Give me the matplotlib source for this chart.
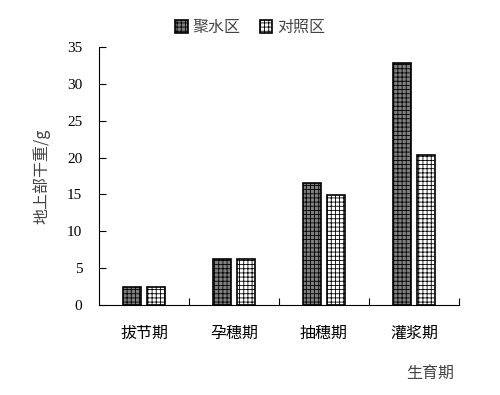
import numpy as np
import matplotlib
matplotlib.use("Agg")
import matplotlib.pyplot as plt

stages = ["拔节期", "孕穗期", "抽穗期", "灌浆期"]
series = ["聚水区", "对照区"]
jushui = [2.5, 6.2, 16.5, 32.8]
duizhao = [2.5, 6.2, 14.9, 20.4]

plt.rcParams["font.family"] = ["Liberation Serif", "Noto Sans CJK SC"]
plt.rcParams["hatch.linewidth"] = 0.6
cjk = ["Noto Sans CJK SC", "Liberation Serif"]

fig = plt.figure(figsize=(5.0, 3.95), dpi=100)
ax = fig.add_axes([0.198, 0.228, 0.72, 0.653])

x = np.arange(1, len(stages) + 1)
w = 0.2
ax.bar(x - 0.133, jushui, w, color="#808080", edgecolor="black",
       linewidth=1.2, hatch="++++", label=series[0])
ax.bar(x + 0.133, duizhao, w, color="white", edgecolor="black",
       linewidth=1.2, hatch="++++", label=series[1])

ax.set_xlim(0.5, 4.5)
ax.set_ylim(0, 35)
ax.set_yticks(np.arange(0, 36, 5))
ax.tick_params(axis="y", direction="in", length=5, labelsize=11, pad=12)

ax.set_xticks([1.5, 2.5, 3.5, 4.5])
ax.set_xticklabels([])
ax.set_xticks(x, minor=True)
ax.set_xticklabels(stages, minor=True, family=cjk, fontsize=11.5)
ax.tick_params(axis="x", which="major", direction="in", length=5)
ax.tick_params(axis="x", which="minor", length=0, pad=14)

for s in ["top", "right"]:
    ax.spines[s].set_visible(False)

ax.set_ylabel("地上部干重/g", family=cjk, fontsize=11.5, color="#444444", labelpad=12)
fig.text(0.86, 0.055, "生育期", family=cjk, fontsize=11.5, color="#444444",
         ha="center", va="center")

leg = fig.legend(loc="center", bbox_to_anchor=(0.5, 0.93), ncol=2, frameon=False,
                 prop={"family": cjk, "size": 11.5}, handlelength=0.8,
                 handleheight=0.8, handletextpad=0.3, columnspacing=1.2)
for t in leg.get_texts():
    t.set_color("#444444")

fig.savefig("out.png", dpi=100)
